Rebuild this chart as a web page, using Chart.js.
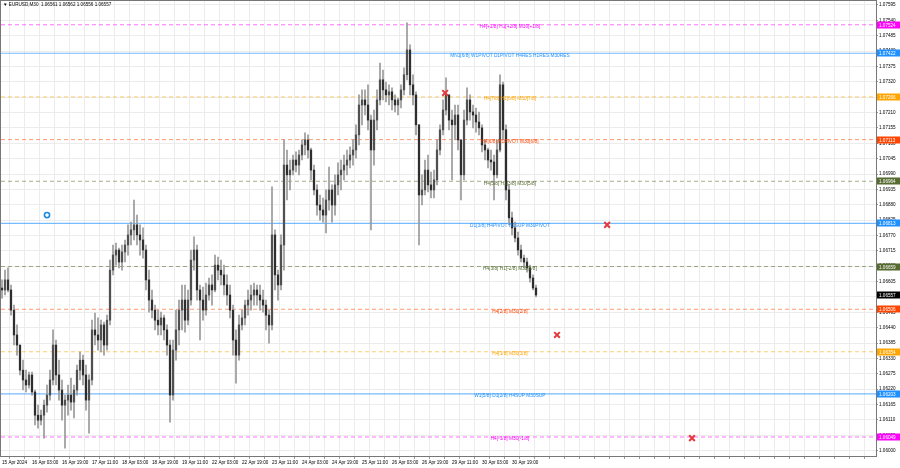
<!DOCTYPE html>
<html>
<head>
<meta charset="utf-8">
<script src="https://cdn.jsdelivr.net/npm/chart.js@4.4.1/dist/chart.umd.min.js"></script>
<style>
  html, body { margin: 0; padding: 0; background: #fff; overflow: hidden; }
</style>
</head>
<body>
<canvas id="chart" width="900" height="468"></canvas>
<script>
// EURUSD M30, one candle here = ~1.6h of the original bars
const opens = [
  1.06582, 1.06575, 1.06611, 1.06575, 1.06503, 1.06414, 1.06378, 1.06288, 1.06253, 1.06235,
  1.06271, 1.06210, 1.06127, 1.06109, 1.06127, 1.06163, 1.06199, 1.06253, 1.06378, 1.06271,
  1.06217, 1.06163, 1.06181, 1.06199, 1.06174, 1.06217, 1.06288, 1.06324, 1.06271, 1.06181,
  1.06253, 1.06432, 1.06414, 1.06396, 1.06450, 1.06378, 1.06467, 1.06646, 1.06700, 1.06718,
  1.06675, 1.06711, 1.06736, 1.06772, 1.06790, 1.06808, 1.06772, 1.06754, 1.06718, 1.06611,
  1.06539, 1.06503, 1.06467, 1.06450, 1.06475, 1.06432, 1.06378, 1.06199, 1.06360, 1.06432,
  1.06503, 1.06539, 1.06467, 1.06539, 1.06682, 1.06718, 1.06575, 1.06539, 1.06503, 1.06557,
  1.06593, 1.06575, 1.06664, 1.06646, 1.06629, 1.06593, 1.06557, 1.06503, 1.06396, 1.06342,
  1.06450, 1.06475, 1.06521, 1.06539, 1.06557, 1.06575, 1.06557, 1.06539, 1.06521, 1.06485,
  1.06450, 1.06772, 1.06629, 1.06593, 1.06736, 1.07022, 1.06987, 1.07004, 1.07040, 1.07022,
  1.07058, 1.07094, 1.07112, 1.07076, 1.07004, 1.06933, 1.06879, 1.06861, 1.06843, 1.06897,
  1.06933, 1.06879, 1.06951, 1.06987, 1.07004, 1.07022, 1.07040, 1.07058, 1.07076, 1.07130,
  1.07237, 1.07255, 1.07237, 1.07183, 1.07076, 1.07183, 1.07255, 1.07327, 1.07291, 1.07273,
  1.07284, 1.07255, 1.07237, 1.07255, 1.07291, 1.07345, 1.07434, 1.07309, 1.07273, 1.07166,
  1.06915, 1.06933, 1.07004, 1.06951, 1.06933, 1.06969, 1.07076, 1.07148, 1.07219, 1.07273,
  1.07183, 1.07166, 1.07201, 1.07112, 1.06987, 1.07183, 1.07255, 1.07212, 1.07201, 1.07176,
  1.07155, 1.07094, 1.07076, 1.07040, 1.07033, 1.06987, 1.07076, 1.07309, 1.07148, 1.06933,
  1.06833, 1.06797, 1.06761, 1.06718, 1.06689, 1.06675, 1.06654, 1.06618, 1.06582
];
const highs = [
  1.06611, 1.06646, 1.06654, 1.06593, 1.06521, 1.06450, 1.06378, 1.06324, 1.06288, 1.06281,
  1.06281, 1.06217, 1.06163, 1.06145, 1.06181, 1.06235, 1.06288, 1.06432, 1.06396, 1.06324,
  1.06253, 1.06199, 1.06235, 1.06260, 1.06235, 1.06306, 1.06353, 1.06342, 1.06306, 1.06271,
  1.06467, 1.06492, 1.06475, 1.06467, 1.06460, 1.06485, 1.06682, 1.06736, 1.06743, 1.06725,
  1.06736, 1.06754, 1.06808, 1.06818, 1.06897, 1.06843, 1.06808, 1.06797, 1.06736, 1.06646,
  1.06575, 1.06521, 1.06503, 1.06496, 1.06485, 1.06450, 1.06396, 1.06396, 1.06503, 1.06539,
  1.06593, 1.06593, 1.06575, 1.06718, 1.06765, 1.06736, 1.06593, 1.06585, 1.06600, 1.06618,
  1.06629, 1.06700, 1.06693, 1.06682, 1.06664, 1.06629, 1.06593, 1.06521, 1.06432, 1.06485,
  1.06503, 1.06539, 1.06575, 1.06593, 1.06600, 1.06593, 1.06593, 1.06575, 1.06539, 1.06503,
  1.06944, 1.06790, 1.06646, 1.06772, 1.07112, 1.07076, 1.07040, 1.07058, 1.07069, 1.07076,
  1.07112, 1.07137, 1.07130, 1.07083, 1.07022, 1.06951, 1.06915, 1.06904, 1.06933, 1.07015,
  1.06951, 1.06987, 1.07030, 1.07040, 1.07058, 1.07076, 1.07087, 1.07112, 1.07166, 1.07273,
  1.07291, 1.07291, 1.07309, 1.07201, 1.07219, 1.07291, 1.07387, 1.07362, 1.07319, 1.07309,
  1.07298, 1.07273, 1.07262, 1.07309, 1.07370, 1.07531, 1.07452, 1.07345, 1.07284, 1.07166,
  1.06987, 1.07040, 1.07058, 1.06997, 1.07004, 1.07112, 1.07166, 1.07255, 1.07334, 1.07273,
  1.07219, 1.07237, 1.07237, 1.07112, 1.07219, 1.07298, 1.07273, 1.07237, 1.07226, 1.07212,
  1.07166, 1.07112, 1.07083, 1.07076, 1.07058, 1.07112, 1.07345, 1.07319, 1.07166, 1.06951,
  1.06854, 1.06818, 1.06782, 1.06736, 1.06700, 1.06689, 1.06664, 1.06629, 1.06593
];
const lows = [
  1.06546, 1.06557, 1.06568, 1.06485, 1.06378, 1.06342, 1.06271, 1.06217, 1.06210, 1.06224,
  1.06199, 1.06092, 1.06081, 1.06092, 1.06045, 1.06138, 1.06181, 1.06235, 1.06235, 1.06181,
  1.06109, 1.06009, 1.06127, 1.06145, 1.06117, 1.06199, 1.06253, 1.06235, 1.06145, 1.06063,
  1.06235, 1.06378, 1.06360, 1.06353, 1.06342, 1.06360, 1.06450, 1.06629, 1.06664, 1.06654,
  1.06646, 1.06675, 1.06700, 1.06736, 1.06754, 1.06736, 1.06700, 1.06689, 1.06575, 1.06496,
  1.06475, 1.06432, 1.06414, 1.06414, 1.06396, 1.06342, 1.06102, 1.06181, 1.06324, 1.06378,
  1.06432, 1.06424, 1.06450, 1.06521, 1.06646, 1.06539, 1.06396, 1.06467, 1.06485, 1.06539,
  1.06521, 1.06568, 1.06611, 1.06593, 1.06557, 1.06521, 1.06475, 1.06342, 1.06242, 1.06324,
  1.06432, 1.06450, 1.06485, 1.06503, 1.06521, 1.06521, 1.06503, 1.06496, 1.06432, 1.06385,
  1.06432, 1.06575, 1.06539, 1.06575, 1.06646, 1.06897, 1.06933, 1.06987, 1.06997, 1.06987,
  1.07040, 1.07058, 1.07047, 1.06969, 1.06915, 1.06843, 1.06825, 1.06818, 1.06779, 1.06861,
  1.06818, 1.06843, 1.06915, 1.06933, 1.06969, 1.06987, 1.07012, 1.07022, 1.07047, 1.07094,
  1.07166, 1.07201, 1.07148, 1.06790, 1.07022, 1.07148, 1.07237, 1.07255, 1.07248, 1.07237,
  1.07219, 1.07212, 1.07201, 1.07226, 1.07273, 1.07327, 1.07273, 1.07237, 1.07130, 1.06736,
  1.06879, 1.06915, 1.06926, 1.06904, 1.06904, 1.06951, 1.07058, 1.07130, 1.07201, 1.07148,
  1.06969, 1.07112, 1.07076, 1.06897, 1.06969, 1.07166, 1.07183, 1.07155, 1.07140, 1.07130,
  1.07069, 1.07040, 1.07012, 1.07004, 1.06897, 1.06976, 1.07069, 1.07112, 1.06897, 1.06808,
  1.06772, 1.06747, 1.06700, 1.06675, 1.06654, 1.06639, 1.06603, 1.06575, 1.06550
];
const closes = [
  1.06575, 1.06611, 1.06575, 1.06503, 1.06414, 1.06378, 1.06288, 1.06253, 1.06235, 1.06271,
  1.06210, 1.06127, 1.06109, 1.06127, 1.06163, 1.06199, 1.06253, 1.06378, 1.06271, 1.06217,
  1.06163, 1.06181, 1.06199, 1.06174, 1.06217, 1.06288, 1.06324, 1.06271, 1.06181, 1.06253,
  1.06432, 1.06414, 1.06396, 1.06450, 1.06378, 1.06467, 1.06646, 1.06700, 1.06718, 1.06675,
  1.06711, 1.06736, 1.06772, 1.06790, 1.06808, 1.06772, 1.06754, 1.06718, 1.06611, 1.06539,
  1.06503, 1.06467, 1.06450, 1.06475, 1.06432, 1.06378, 1.06199, 1.06360, 1.06432, 1.06503,
  1.06539, 1.06467, 1.06539, 1.06682, 1.06718, 1.06575, 1.06539, 1.06503, 1.06557, 1.06593,
  1.06575, 1.06664, 1.06646, 1.06629, 1.06593, 1.06557, 1.06503, 1.06396, 1.06342, 1.06450,
  1.06475, 1.06521, 1.06539, 1.06557, 1.06575, 1.06557, 1.06539, 1.06521, 1.06485, 1.06450,
  1.06772, 1.06629, 1.06593, 1.06736, 1.07022, 1.06987, 1.07004, 1.07040, 1.07022, 1.07058,
  1.07094, 1.07112, 1.07076, 1.07004, 1.06933, 1.06879, 1.06861, 1.06843, 1.06897, 1.06933,
  1.06879, 1.06951, 1.06987, 1.07004, 1.07022, 1.07040, 1.07058, 1.07076, 1.07130, 1.07237,
  1.07255, 1.07237, 1.07183, 1.07076, 1.07183, 1.07255, 1.07327, 1.07291, 1.07273, 1.07284,
  1.07255, 1.07237, 1.07255, 1.07291, 1.07345, 1.07434, 1.07309, 1.07273, 1.07166, 1.06915,
  1.06933, 1.07004, 1.06951, 1.06933, 1.06969, 1.07076, 1.07148, 1.07219, 1.07273, 1.07183,
  1.07166, 1.07201, 1.07112, 1.06987, 1.07183, 1.07255, 1.07212, 1.07201, 1.07176, 1.07155,
  1.07094, 1.07076, 1.07040, 1.07033, 1.06987, 1.07076, 1.07309, 1.07148, 1.06933, 1.06833,
  1.06797, 1.06761, 1.06718, 1.06689, 1.06675, 1.06654, 1.06618, 1.06582, 1.06557
];

// one time label every 10 candles
const timeLabels = [
  '15 Apr 2024', '16 Apr 03:00', '16 Apr 19:00', '17 Apr 11:00', '18 Apr 03:00', '18 Apr 19:00',
  '19 Apr 11:00', '22 Apr 03:00', '22 Apr 19:00', '23 Apr 11:00', '24 Apr 03:00', '24 Apr 19:00',
  '25 Apr 11:00', '26 Apr 03:00', '26 Apr 19:00', '29 Apr 11:00', '30 Apr 03:00', '30 Apr 19:00'
];
const priceTicks = [
  '1.07595', '1.07540', '1.07485', '1.07430', '1.07375', '1.07320', '1.07265', '1.07210', '1.07155', '1.07100',
  '1.07045', '1.06990', '1.06935', '1.06880', '1.06825', '1.06770', '1.06715', '1.06660', '1.06605', '1.06550',
  '1.06495', '1.06440', '1.06385', '1.06330', '1.06275', '1.06220', '1.06165', '1.06110', '1.06055', '1.06000'
];

// murrey / pivot levels
const levelPrices = [1.07524, 1.07422, 1.07266, 1.07113, 1.06964, 1.06813, 1.06659, 1.06506, 1.06354, 1.06203, 1.06049];
const levelNames = [
  'H4[+1/8] H1[+2/8] M30[+1/8]',
  'MN1[6/8] W1PIVOT D1PIVOT H4RES H1RES M30RES',
  'H4[7/8] H1[6/8] M30[7/8]',
  'H4[6/8] H1PIVOT M30[6/8]',
  'H4[5/8] H1[3/8] M30[5/8]',
  'D1[3/8] H4PIVOT H1SUP M30PIVOT',
  'H4[3/8] H1[-2/8] M30[3/8]',
  'H4[2/8] M30[2/8]',
  'H4[1/8] M30[1/8]',
  'W1[5/8] D1[2/8] H4SUP M30SUP',
  'H4[-1/8] M30[-1/8]'
];
const levelColors = ['#ff00ff', '#1e90ff', '#ffa500', '#ff4500', '#556b2f', '#1e90ff', '#556b2f', '#ff4500', '#ffa500', '#1e90ff', '#ff00ff'];
const levelDashed = [true, false, true, true, true, false, true, true, true, false, true];

// signal marks (candle index, price)
const crossX = [147.7, 201.7, 185, 230];
const crossY = [1.07280, 1.06808, 1.06414, 1.06045];
const circleX = [15];
const circleY = [1.06843];

const FONT = '"Liberation Sans", Arial, sans-serif';
const X_MIN = -1 / 3;
const X_MAX = 291.33;
const LABEL_AT = 169.3;

function rgba(hex, a) {
    const n = parseInt(hex.slice(1), 16);
    return `rgba(${(n >> 16) & 255}, ${(n >> 8) & 255}, ${n & 255}, ${a})`;
}

const idx = opens.map((_, i) => i);

const levelSets = levelPrices.map((p, k) => ({
    type: 'line',
    data: [{ x: X_MIN, y: p }, { x: X_MAX, y: p }],
    borderColor: rgba(levelColors[k], levelDashed[k] ? 0.55 : 0.6),
    borderWidth: levelDashed[k] ? 1 : 1.2,
    borderDash: levelDashed[k] ? [4, 3] : [],
    pointRadius: 0,
    order: 5
}));

const decor = {
    id: 'decor',
    afterDatasetsDraw(chart) {
        const { ctx, scales: { x, y } } = chart;
        ctx.save();
        ctx.font = `4.8px ${FONT}`;
        ctx.textAlign = 'center';
        ctx.textBaseline = 'middle';
        levelPrices.forEach((p, k) => {
            ctx.fillStyle = levelColors[k];
            ctx.fillText(levelNames[k], x.getPixelForValue(LABEL_AT), y.getPixelForValue(p) + 2);
        });
        ctx.restore();
    },
    afterDraw(chart) {
        const { ctx, chartArea: a, scales: { y } } = chart;
        ctx.save();
        // frame
        ctx.strokeStyle = '#777';
        ctx.lineWidth = 1;
        ctx.strokeRect(0.5, 0.5, a.right, a.bottom);

        // price tags on the axis
        ctx.font = `4.6px ${FONT}`;
        ctx.textAlign = 'left';
        ctx.textBaseline = 'middle';
        const tag = (p, bg) => {
            const py = Math.round(y.getPixelForValue(p));
            ctx.fillStyle = bg;
            ctx.fillRect(a.right + 1, py - 3.5, 900 - a.right - 1, 7);
            ctx.fillStyle = '#fff';
            ctx.fillText(p.toFixed(5), a.right + 3, py + 0.5);
        };
        levelPrices.forEach((p, k) => tag(p, levelColors[k]));
        tag(closes[closes.length - 1], '#000');

        // header
        ctx.fillStyle = '#000';
        ctx.fillText('▼ EURUSD,M30  1.06561 1.06562 1.06556 1.06557', 3, 4.5);
        ctx.restore();
    }
};

new Chart(document.getElementById('chart'), {
    type: 'bar',
    data: {
        datasets: [
            ...levelSets,
            {
                label: 'wicks',
                data: idx.map(i => ({ x: i, y: [lows[i], highs[i]] })),
                backgroundColor: '#999',
                barThickness: 1,
                grouped: false,
                order: 3
            },
            {
                label: 'bodies',
                data: idx.map(i => ({ x: i, y: [opens[i], closes[i]] })),
                backgroundColor: idx.map(i => closes[i] >= opens[i] ? '#505050' : '#2e2e2e'),
                barThickness: 1.6,
                minBarLength: 1,
                grouped: false,
                order: 2
            },
            {
                type: 'scatter',
                data: crossX.map((v, i) => ({ x: v, y: crossY[i] })),
                pointStyle: 'crossRot',
                pointRadius: 4,
                borderWidth: 2,
                borderColor: '#e5393b',
                order: 0
            },
            {
                type: 'scatter',
                data: circleX.map((v, i) => ({ x: v, y: circleY[i] })),
                pointStyle: 'circle',
                pointRadius: 2.6,
                borderWidth: 1.6,
                borderColor: '#1e88e5',
                backgroundColor: '#fff',
                order: 0
            }
        ]
    },
    options: {
        responsive: false,
        animation: false,
        devicePixelRatio: 1,
        layout: { autoPadding: false, padding: { left: 1, top: 1, right: 0, bottom: 0 } },
        plugins: { legend: { display: false }, tooltip: { enabled: false } },
        scales: {
            x: {
                type: 'linear',
                min: X_MIN,
                max: X_MAX,
                offset: false,
                afterBuildTicks: s => {
                    s.ticks = [];
                    for (let v = 0; v <= X_MAX; v += 5) s.ticks.push({ value: v });
                },
                afterFit: s => { s.height = 12; s.paddingLeft = 0; s.paddingRight = 0; },
                grid: { color: '#ececec', tickLength: 3, tickColor: '#999' },
                border: { color: '#777' },
                ticks: {
                    autoSkip: false,
                    maxRotation: 0,
                    align: 'start',
                    padding: 1,
                    color: '#000',
                    font: { family: FONT, size: 4.6 },
                    callback: v => (v % 10 === 0 && timeLabels[v / 10]) ? timeLabels[v / 10] : ''
                }
            },
            y: {
                type: 'linear',
                position: 'right',
                min: 1.05981,
                max: 1.07609,
                afterBuildTicks: s => { s.ticks = priceTicks.map(t => ({ value: parseFloat(t) })); },
                afterFit: s => { s.width = 24; s.paddingTop = 0; s.paddingBottom = 0; },
                grid: { color: '#ececec', tickLength: 2, tickColor: '#999' },
                border: { color: '#777' },
                ticks: {
                    autoSkip: false,
                    padding: 1,
                    color: '#000',
                    font: { family: FONT, size: 4.6 },
                    callback: v => v.toFixed(5)
                }
            }
        }
    },
    plugins: [decor]
});
</script>
</body>
</html>
